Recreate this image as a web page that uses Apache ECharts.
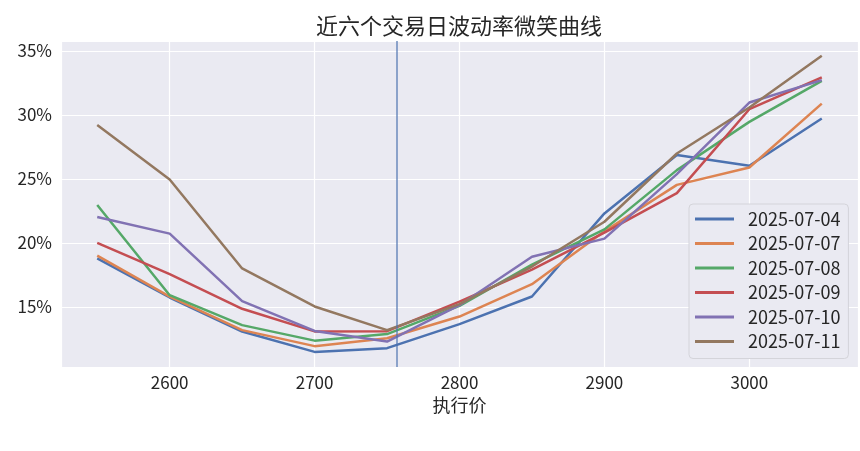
<!DOCTYPE html>
<html lang="zh">
  <head>
    <meta charset="UTF-8" />
    <title>近六个交易日波动率微笑曲线</title>
    <script src="https://cdn.jsdelivr.net/npm/echarts@6/dist/echarts.min.js"></script>
    <style>
      * {
        margin: 0;
        padding: 0;
      }
      body {
        background: #fff;
      }
      #chart {
        width: 860px;
        height: 451px;
      }
    </style>
  </head>
  <body>
    <div id="chart"></div>
    <script>
      // 行权价
      const strikes = [2550, 2600, 2650, 2700, 2750, 2800, 2850, 2900, 2950, 3000, 3050];
      // 交易日
      const dates = ["2025-07-04", "2025-07-07", "2025-07-08", "2025-07-09", "2025-07-10", "2025-07-11"];
      // 隐含波动率 (%)
      const iv0704 = [18.78, 15.73, 13.07, 11.48, 11.77, 13.65, 15.81, 22.3, 26.87, 26.02, 29.71];
      const iv0707 = [19.0, 15.8, 13.18, 11.93, 12.55, 14.24, 16.77, 20.9, 24.53, 25.89, 30.88];
      const iv0708 = [22.95, 15.91, 13.57, 12.36, 12.87, 15.08, 18.3, 21.05, 25.68, 29.45, 32.66];
      const iv0709 = [20.0, 17.55, 14.85, 13.08, 13.1, 15.41, 17.9, 20.8, 23.88, 30.44, 32.92];
      const iv0710 = [22.02, 20.72, 15.45, 13.12, 12.29, 15.13, 18.91, 20.33, 25.37, 30.96, 32.71];
      const iv0711 = [29.21, 24.95, 18.0, 15.03, 13.18, 15.21, 18.15, 21.65, 26.98, 30.57, 34.61];
      const ivList = [iv0704, iv0707, iv0708, iv0709, iv0710, iv0711];
      // 标的现价
      const spot = 2757;

      const colors = ["#4C72B0", "#DD8452", "#55A868", "#C44E52", "#8172B3", "#937860"];
      const font = "Noto Sans CJK SC";

      const chart = echarts.init(document.getElementById("chart"));

      const series = dates.map((d, i) => ({
        name: d,
        type: "line",
        data: strikes.map((k, j) => [k, ivList[i][j]]),
        showSymbol: false,
        symbol: "none",
        lineStyle: { width: 2.5, color: colors[i] },
        itemStyle: { color: colors[i] },
        emphasis: { disabled: true },
      }));
      // 现价竖线
      series[0].markLine = {
        silent: true,
        symbol: "none",
        label: { show: false },
        lineStyle: { color: "rgba(76,114,176,0.8)", width: 1.5, type: "solid" },
        data: [{ xAxis: spot }],
      };

      chart.setOption({
        animation: false,
        color: colors,
        title: {
          text: "近六个交易日波动率微笑曲线",
          left: 459,
          top: 15,
          padding: 0,
          textAlign: "center",
          textStyle: { fontFamily: font, fontSize: 22, fontWeight: "normal", color: "#262626" },
        },
        grid: {
          left: 61,
          right: 2,
          top: 41,
          bottom: 84,
          show: true,
          backgroundColor: "#EAEAF2",
          borderWidth: 0,
        },
        legend: {
          orient: "vertical",
          left: 689,
          top: 204,
          padding: [5, 8, 7, 6],
          icon: "rect",
          itemWidth: 39,
          itemHeight: 3,
          itemGap: 4.5,
          backgroundColor: "#EAEAF2",
          borderColor: "#d4d4da",
          borderWidth: 1,
          borderRadius: 4,
          textStyle: {
            fontFamily: font,
            fontSize: 18,
            lineHeight: 20,
            padding: [0, 0, 0, 9],
            color: "#262626",
          },
          data: dates,
        },
        xAxis: {
          type: "value",
          min: 2525,
          max: 3075,
          splitNumber: 5,
          name: "执行价",
          nameLocation: "middle",
          nameGap: 28,
          nameTextStyle: { fontFamily: font, fontSize: 18, color: "#262626" },
          axisLine: { show: false },
          axisTick: { show: false },
          axisLabel: {
            showMinLabel: false,
            showMaxLabel: false,
            margin: 7,
            fontFamily: font,
            fontSize: 17,
            color: "#262626",
            formatter: (v) => String(v),
          },
          splitLine: { show: true, lineStyle: { color: "#fff", width: 1.2 } },
        },
        yAxis: {
          type: "value",
          min: 10.3,
          max: 35.77,
          splitNumber: 5,
          axisLine: { show: false },
          axisTick: { show: false },
          axisLabel: {
            showMinLabel: false,
            showMaxLabel: false,
            margin: 9,
            fontFamily: font,
            fontSize: 17,
            color: "#262626",
            formatter: (v) => v + "%",
          },
          splitLine: { show: true, lineStyle: { color: "#fff", width: 1.2 } },
        },
        series: series,
      });
    </script>
  </body>
</html>
